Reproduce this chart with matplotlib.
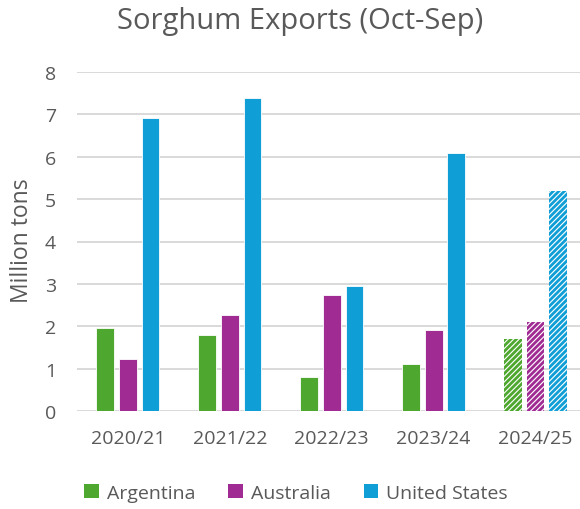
import numpy as np
import matplotlib.pyplot as plt
from matplotlib.patches import Patch

plt.rcParams['font.family'] = ['Open Sans', 'DejaVu Sans']
plt.rcParams['hatch.linewidth'] = 2.0

years = ['2020/21', '2021/22', '2022/23', '2023/24', '2024/25']
argentina = [1.97, 1.80, 0.80, 1.10, 1.70]
australia = [1.22, 2.26, 2.74, 1.90, 2.10]
united_states = [6.92, 7.38, 2.95, 6.10, 5.20]
forecast = [False, False, False, False, True]

series = [('Argentina', argentina, '#4EA72E'),
          ('Australia', australia, '#A02B93'),
          ('United States', united_states, '#0F9ED5')]

TEXT = '#595959'

fig = plt.figure(figsize=(5.8, 5.1), dpi=100)
ax = fig.add_axes([77 / 580, 98 / 510, 509.5 / 580, 339 / 510])

x = np.arange(len(years))
step = 0.222
width = 0.174
for i, (name, vals, color) in enumerate(series):
    for j, v in enumerate(vals):
        xpos = x[j] + (i - 1) * step
        if forecast[j]:
            ax.bar(xpos, v, width, facecolor='white', edgecolor=color,
                   hatch='//////', linewidth=0, zorder=3)
        else:
            ax.bar(xpos, v, width, color=color, edgecolor='white',
                   linewidth=0.6, zorder=3)

ax.set_xlim(-0.5, 4.5)
ax.set_ylim(0, 8)
ax.set_yticks(range(0, 9))
ax.set_xticks(x)
ax.set_xticklabels(years)
ax.grid(axis='y', color='#D9D9D9', linewidth=1.4, zorder=0)
ax.set_axisbelow(True)
for s in ax.spines.values():
    s.set_visible(False)
ax.tick_params(axis='both', length=0, labelsize=14, labelcolor=TEXT)
ax.tick_params(axis='y', pad=15)
ax.tick_params(axis='x', pad=13)

fig.text(22 / 580, 1 - 241 / 510, 'Million tons', rotation=90, fontsize=16.5,
         color=TEXT, ha='center', va='center')
fig.text(300 / 580, 1 - 22 / 510, 'Sorghum Exports (Oct-Sep)', fontsize=21,
         color=TEXT, ha='center', va='center')

handles = [Patch(facecolor=c, label=n) for n, _, c in series]
fig.legend(handles=handles, loc='center', bbox_to_anchor=(296 / 580, 1 - 494 / 510),
           ncol=3, frameon=False, fontsize=14, handlelength=0.75, handleheight=0.75,
           handletextpad=0.4, columnspacing=1.7, labelcolor=TEXT)

fig.savefig('out.png', dpi=100)
